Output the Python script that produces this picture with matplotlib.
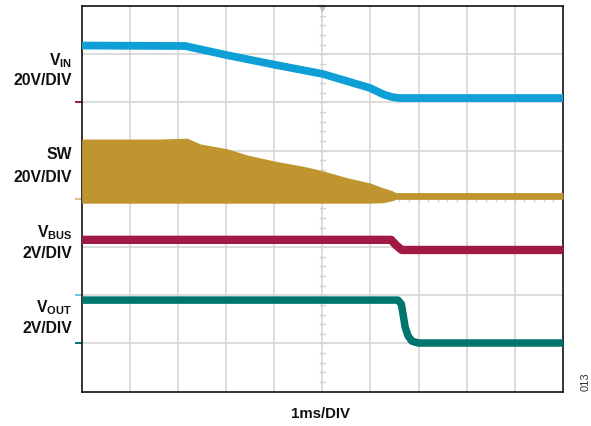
import matplotlib
matplotlib.use("Agg")
import matplotlib.pyplot as plt
import matplotlib.transforms as mtransforms

plt.rcParams['font.family'] = ['Liberation Sans', 'DejaVu Sans']
plt.rcParams['mathtext.fontset'] = 'custom'
plt.rcParams['mathtext.rm'] = 'Liberation Sans'
plt.rcParams['mathtext.bf'] = 'Liberation Sans:bold'

# traces, in screen divisions (10 across, 8 high)
vin_t = [0, 2.15, 2.52, 3.02, 4.02, 5.01, 5.99, 6.26, 6.45, 6.61, 10]
vin_y = [7.18, 7.17, 7.09, 6.98, 6.78, 6.59, 6.30, 6.17, 6.11, 6.09, 6.09]

sw_t = [0, 1.63, 2.19, 2.46, 3.02, 3.44, 3.98, 4.68, 5.01, 5.51, 5.99, 6.26, 6.45, 6.53, 10]
sw_top = [5.24, 5.24, 5.26, 5.14, 5.04, 4.91, 4.79, 4.66, 4.58, 4.44, 4.33, 4.23, 4.17, 4.13, 4.13]
sw_bot = [3.91, 3.91, 3.91, 3.91, 3.91, 3.91, 3.91, 3.91, 3.91, 3.91, 3.91, 3.92, 3.96, 3.99, 3.99]

vbus_t = [0, 6.43, 6.53, 6.65, 10]
vbus_y = [3.15, 3.15, 3.04, 2.94, 2.94]

vout_t = [0, 6.57, 6.64, 6.68, 6.72, 6.78, 6.86, 6.99, 10]
vout_y = [1.90, 1.90, 1.82, 1.59, 1.34, 1.16, 1.05, 1.01, 1.01]

# channel ground markers on the left edge
marker_y = [6, 4, 2, 1]
marker_colors = ['#a01a44', '#d9c28c', '#6ec3e6', '#00756e']

c_vin = '#0d9fd6'
c_sw = '#c09530'
c_vbus = '#a01a44'
c_vout = '#00756e'

fig = plt.figure(figsize=(5.91, 4.26), dpi=100)
ax = fig.add_axes([81.7 / 591, 1 - 391.7 / 426, (563 - 81.7) / 591, (391.7 - 6) / 426])
ax.set_xlim(0, 10)
ax.set_ylim(0, 8)

# grid
grid_c = '#d2d2d2'
for gx in range(1, 10):
    ax.axvline(gx, color=grid_c, lw=1.1, zorder=1)
for gy in range(1, 8):
    ax.axhline(gy, color=grid_c, lw=1.1, zorder=1)

# minor ticks on the centre lines
for i in range(1, 50):
    t = i * 0.2
    ax.plot([t, t], [3.95, 4.05], color=grid_c, lw=1.0, zorder=1)
for i in range(1, 40):
    t = i * 0.2
    ax.plot([4.95, 5.05], [t, t], color=grid_c, lw=1.0, zorder=1)
ax.plot([5], [7.96], marker='v', ms=5, color='#c0c0c0', clip_on=False, zorder=2)

ax.fill_between(sw_t, sw_bot, sw_top, color=c_sw, lw=0, zorder=3)
ax.plot(vin_t, vin_y, color=c_vin, lw=5.6, solid_capstyle='butt', zorder=4)
ax.plot(vbus_t, vbus_y, color=c_vbus, lw=6.0, solid_capstyle='butt', zorder=4)
ax.plot(vout_t, vout_y, color=c_vout, lw=5.4, solid_capstyle='butt', zorder=4)

trans = mtransforms.blended_transform_factory(ax.transAxes, ax.transData)
for my, mc in zip(marker_y, marker_colors):
    ax.plot([-0.012, -0.002], [my, my], color=mc, lw=1.4, transform=trans, clip_on=False)

ax.set_xticks([])
ax.set_yticks([])
for s in ax.spines.values():
    s.set_linewidth(1.2)
    s.set_color('#111111')


def px(x, y):
    return x / 591, 1 - y / 426


lab = dict(ha='right', va='baseline', fontsize=11.3, fontweight='bold', color='#111111')
fig.text(*px(72, 65), r'$\mathbf{V}_{\mathbf{IN}}$', **lab)
fig.text(*px(72, 85), '20V/DIV', **lab)
fig.text(*px(72, 159), 'SW', **lab)
fig.text(*px(72, 182), '20V/DIV', **lab)
fig.text(*px(72, 237), r'$\mathbf{V}_{\mathbf{BUS}}$', **lab)
fig.text(*px(72, 258), '2V/DIV', **lab)
fig.text(*px(72, 312), r'$\mathbf{V}_{\mathbf{OUT}}$', **lab)
fig.text(*px(72, 333), '2V/DIV', **lab)
fig.text(*px(321, 418), '1ms/DIV', ha='center', va='baseline', fontsize=10.8,
         fontweight='bold', color='#111111')
fig.text(*px(586, 382), '013', ha='center', va='center', rotation=90, fontsize=8,
         color='#333333')

fig.savefig('out.png', dpi=100)
